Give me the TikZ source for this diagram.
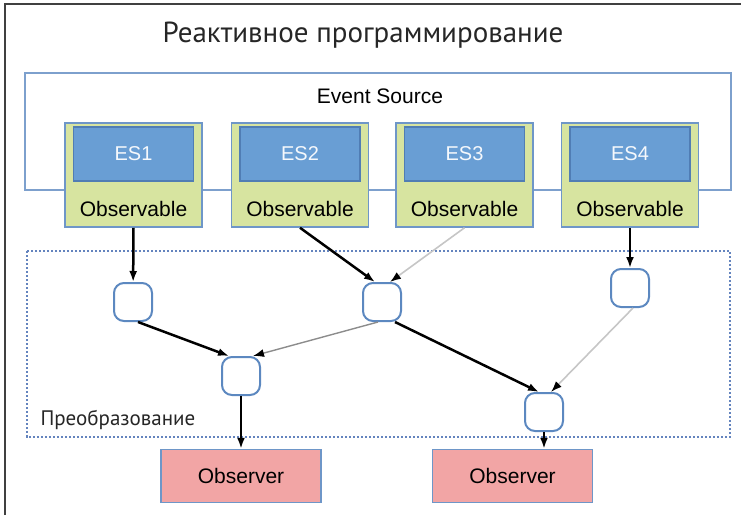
\documentclass[tikz,border=0pt]{standalone}
\usepackage{fontspec}
\setmainfont{Liberation Sans}
\newfontfamily\ptsans{PT Sans}
\usetikzlibrary{arrows.meta}

\definecolor{srcblue}{RGB}{125,160,205}
\definecolor{esfill}{RGB}{105,158,212}
\definecolor{esline}{RGB}{80,125,180}
\definecolor{obsfill}{RGB}{215,228,160}
\definecolor{obsline}{RGB}{110,150,200}
\definecolor{outfill}{RGB}{242,165,165}
\definecolor{dotblue}{RGB}{100,132,190}
\definecolor{opline}{RGB}{92,136,192}

\tikzset{
  srcbox/.style={draw=srcblue, line width=2pt},
  obsbox/.style={draw=obsline, fill=obsfill, line width=1.5pt,
    minimum width=137pt, minimum height=104pt, inner sep=0pt},
  esbox/.style={draw=esline, fill=esfill, line width=1.5pt, text=white!93!esfill,
    minimum width=120pt, minimum height=54pt, inner sep=0pt, font=\fontsize{20}{22}\selectfont},
  opnode/.style={draw=opline, fill=white, line width=2pt, rounded corners=10pt,
    minimum width=38pt, minimum height=38pt, inner sep=0pt},
  outbox/.style={draw=obsline, fill=outfill, line width=1.5pt,
    minimum width=160pt, minimum height=53pt, inner sep=0pt},
  flow/.style={line width=2.5pt, -{Latex[length=11pt,width=8pt]}},
  faint/.style={line width=1.6pt, gray!45, -{Latex[length=11pt,width=8pt,color=black]}},
  midgray/.style={line width=1.4pt, gray!90, -{Latex[length=11pt,width=8pt,color=black]}},
}

\begin{document}
\begin{tikzpicture}[x=1pt,y=-1pt, font=\fontsize{21}{24}\selectfont]
  \useasboundingbox (0,0) rectangle (741,515);
  \draw[line width=1.5pt, black!75] (5,515) -- (5,4) -- (741,4);

  \node[font=\ptsans\fontsize{29}{31}\selectfont, text=black!85] (title) at (363,35) {Реактивное программирование};

  % event sources
  \draw[srcbox] (25,73) rectangle (731,190);
  \node (src) at (380,96) {Event Source};

  \foreach \i/\x in {1/133.5, 2/300, 3/464.5, 4/630} {
    \node[obsbox] (obs\i) at (\x,175) {};
    \node[esbox] (es\i) at (\x,154) {ES\i};
    \node (lbl\i) at (\x,209) {Observable};
  }

  % transformation area
  \draw[dotblue, line width=2.5pt, dash pattern=on 2.2pt off 1.8pt] (27,251) rectangle (730,437);
  \node[anchor=base west, font=\ptsans\fontsize{21}{24}\selectfont, text=black!85] (trans) at (37,425) {Преобразование};

  \node[opnode] (n1) at (133,302) {};
  \node[opnode] (n2) at (382,302) {};
  \node[opnode] (n3) at (630,288) {};
  \node[opnode] (n4) at (241,376) {};
  \node[opnode] (n5) at (544,412) {};

  \node[outbox] (out1) at (241,476) {Observer};
  \node[outbox] (out2) at (512.5,476) {Observer};

  \draw[flow] (obs1.south) -- (n1);
  \draw[flow] (obs2.south) -- ([xshift=-7pt]n2.north);
  \draw[faint] (obs3.south) -- ([xshift=8pt]n2.north);
  \draw[flow] (obs4.south) -- (n3);
  \draw[flow] ([xshift=5pt]n1.south) -- ([xshift=-12pt]n4.north);
  \draw[midgray] ([xshift=-4pt]n2.south) -- ([xshift=12pt]n4.north);
  \draw[flow] ([xshift=13pt]n2.south) -- ([xshift=-5pt]n5.north);
  \draw[faint] ([xshift=3pt]n3.south) -- ([xshift=7pt]n5.north);
  \draw[flow] (n4) -- (out1);
  \draw[flow] (n5.south) -- (n5.south |- out2.north);
\end{tikzpicture}
\end{document}
